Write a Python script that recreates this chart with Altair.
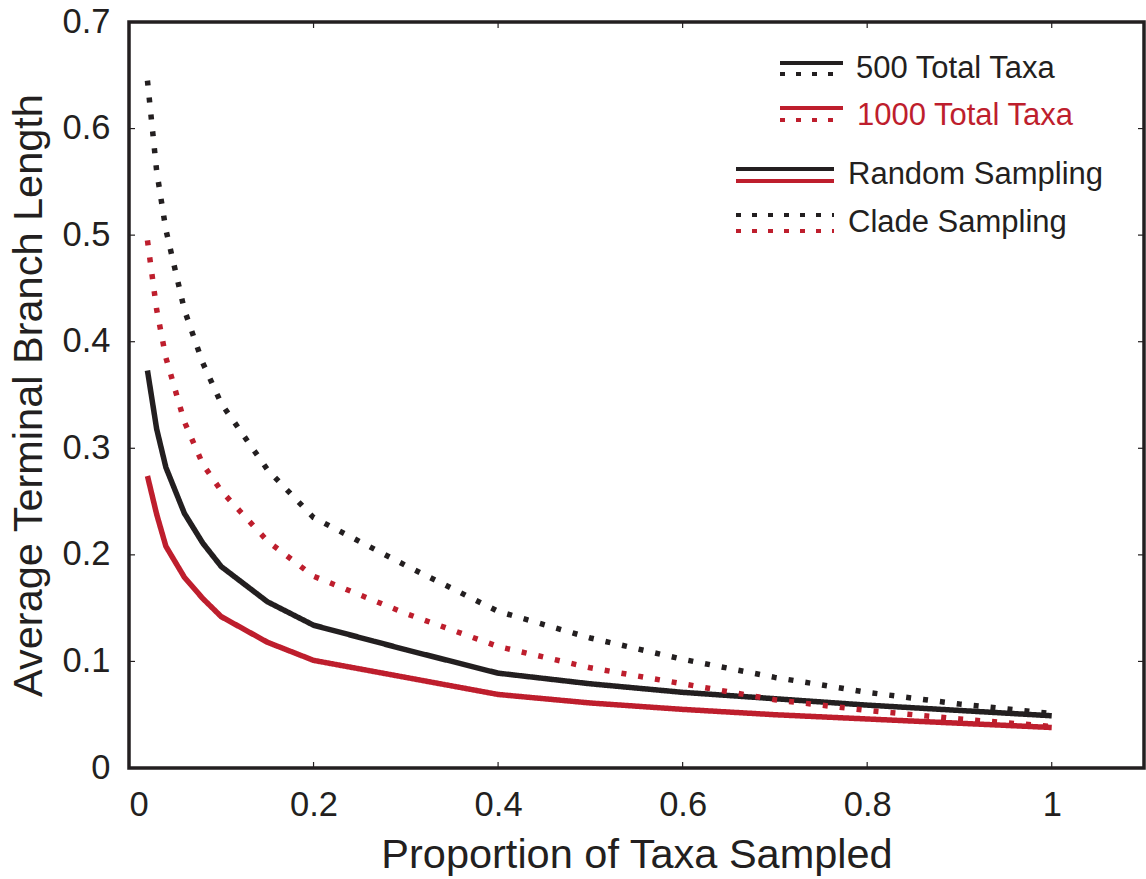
import altair as alt
import pandas as pd

# ---- data ----
x_vals = [0.02, 0.03, 0.04, 0.06, 0.08, 0.1, 0.15, 0.2, 0.3, 0.4, 0.5, 0.6, 0.7, 0.8, 0.9, 1.0]
random_500 = [0.373, 0.318, 0.282, 0.239, 0.211, 0.189, 0.156, 0.134, 0.111, 0.089, 0.079, 0.071, 0.065, 0.059, 0.054, 0.049]
random_1000 = [0.274, 0.238, 0.208, 0.179, 0.159, 0.142, 0.118, 0.101, 0.085, 0.069, 0.061, 0.055, 0.050, 0.046, 0.042, 0.038]
clade_500 = [0.645, 0.56, 0.505, 0.43, 0.38, 0.342, 0.28, 0.235, 0.19, 0.147, 0.122, 0.102, 0.085, 0.071, 0.060, 0.051]
clade_1000 = [0.495, 0.43, 0.385, 0.325, 0.285, 0.26, 0.213, 0.18, 0.145, 0.114, 0.094, 0.079, 0.064, 0.054, 0.046, 0.039]

x_ticks = [0, 0.2, 0.4, 0.6, 0.8, 1.0]
y_ticks = [0, 0.1, 0.2, 0.3, 0.4, 0.5, 0.6, 0.7]

series = [
    ("500", "Random", random_500),
    ("1000", "Random", random_1000),
    ("500", "Clade", clade_500),
    ("1000", "Clade", clade_1000),
]

BLACK = "#231f20"
RED = "#be1e2d"
FONT = "Liberation Sans"
W, H = 1015, 746

rows = []
for order, (size, method, vals) in enumerate(series):
    for xv, yv in zip(x_vals, vals):
        rows.append({"x": xv, "y": yv, "size": size, "method": method,
                     "series": f"{order}-{size}-{method}"})
df = pd.DataFrame(rows)

xscale = alt.Scale(domain=[0, 1.1], nice=False, zero=False)
yscale = alt.Scale(domain=[0, 0.7], nice=False)

base = alt.Chart(df)

lines = base.mark_line(strokeWidth=5.5, strokeCap="butt", strokeJoin="round").encode(
    x=alt.X("x:Q", scale=xscale,
            axis=alt.Axis(values=x_ticks, format=".1~f", title="Proportion of Taxa Sampled",
                          ticks=False, domain=False, grid=False, labelFontSize=34.5,
                          labelPadding=20, titleFontSize=41.5, titleFontWeight="normal",
                          titlePadding=13, labelColor=BLACK, titleColor=BLACK,
                          labelFont=FONT, titleFont=FONT)),
    y=alt.Y("y:Q", scale=yscale,
            axis=alt.Axis(values=y_ticks, format=".1~f", title="Average Terminal Branch Length",
                          ticks=False, domain=False, grid=False, labelFontSize=34.5,
                          labelPadding=19, titleFontSize=41.5, titleFontWeight="normal",
                          titlePadding=12, labelColor=BLACK, titleColor=BLACK,
                          labelFont=FONT, titleFont=FONT)),
    color=alt.Color("size:N", scale=alt.Scale(domain=["500", "1000"], range=[BLACK, RED]), legend=None),
    strokeDash=alt.StrokeDash("method:N", scale=alt.Scale(domain=["Random", "Clade"], range=[[1, 0], [5, 12]]), legend=None),
    detail="series:N",
    order=alt.Order("x:Q"),
)

# inward ticks on all four sides
xt = pd.DataFrame({"t": x_ticks})
yt = pd.DataFrame({"t": y_ticks})
tick_style = dict(color=BLACK, strokeWidth=1.2)
xb = alt.Chart(xt).mark_rule(**tick_style).encode(
    x=alt.X("t:Q", scale=xscale), y=alt.value(H), y2=alt.value(H - 6))
xtop = alt.Chart(xt).mark_rule(**tick_style).encode(
    x=alt.X("t:Q", scale=xscale), y=alt.value(0), y2=alt.value(6))
yl = alt.Chart(yt).mark_rule(**tick_style).encode(
    y=alt.Y("t:Q", scale=yscale), x=alt.value(0), x2=alt.value(6))
yr = alt.Chart(yt).mark_rule(**tick_style).encode(
    y=alt.Y("t:Q", scale=yscale), x=alt.value(W), x2=alt.value(W - 6))

# manual legend (pixel positions inside plot area; plot origin at (129, 22))
one = pd.DataFrame({"a": [0]})
OX, OY = 129, 22


def leg_line(x1, x2, y, color, dash):
    kw = dict(color=color, strokeWidth=4, strokeCap="butt")
    if dash:
        kw["strokeDash"] = [5, 11]
    return alt.Chart(one).mark_rule(**kw).encode(
        x=alt.value(x1 - OX), x2=alt.value(x2 - OX), y=alt.value(y - OY))


def leg_text(x, y, label, color):
    return alt.Chart(one).mark_text(align="left", baseline="middle", fontSize=31,
                                    font=FONT, color=color).encode(
        x=alt.value(x - OX), y=alt.value(y - OY), text=alt.value(label))


legend_layers = [
    leg_line(780, 843, 63, BLACK, False),
    leg_line(780, 843, 74, BLACK, True),
    leg_text(856, 69, "500 Total Taxa", BLACK),
    leg_line(780, 843, 108, RED, False),
    leg_line(780, 843, 120, RED, True),
    leg_text(857, 116, "1000 Total Taxa", RED),
    leg_line(736, 834, 169, BLACK, False),
    leg_line(736, 834, 181, RED, False),
    leg_text(848, 175, "Random Sampling", BLACK),
    leg_line(736, 834, 215, BLACK, True),
    leg_line(736, 834, 231, RED, True),
    leg_text(848, 223, "Clade Sampling", BLACK),
]

chart = alt.layer(lines, xb, xtop, yl, yr, *legend_layers).properties(
    width=W, height=H,
    autosize=alt.AutoSizeParams(type="none"),
    padding={"left": OX, "top": OY, "right": 1146 - OX - W, "bottom": 879 - OY - H},
    background="white",
).configure_view(stroke=BLACK, strokeWidth=3.5)

chart.save("out.html", embed_options={"renderer": "svg", "actions": False})
